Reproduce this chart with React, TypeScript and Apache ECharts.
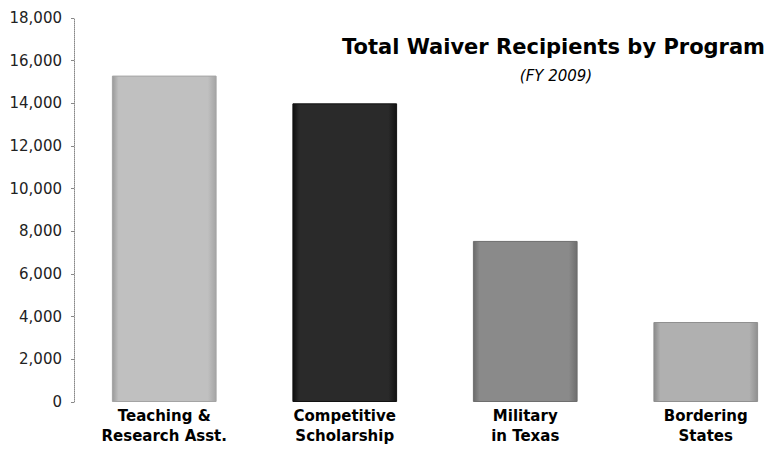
import React, { useEffect, useRef } from "react";
import * as echarts from "echarts";

const categories = ["Teaching &\nResearch Asst.", "Competitive\nScholarship", "Military\nin Texas", "Bordering\nStates"];
const recipients = [15300, 14000, 7550, 3750];
const barColors = [
  ["#9a9a9a", "#c0c0c0", "#a4a4a4"],
  ["#0e0e0e", "#2a2a2a", "#121212"],
  ["#6a6a6a", "#8a8a8a", "#6e6e6e"],
  ["#8a8a8a", "#b0b0b0", "#909090"],
];
const yTicks = { min: 0, max: 18000, interval: 2000 };
const titleText = "Total Waiver Recipients by Program";
const subtitleText = "(FY 2009)";

export default function App() {
  const ref = useRef<HTMLDivElement>(null);
  useEffect(() => {
    document.body.style.margin = "0";
    document.body.style.overflow = "hidden";
    document.documentElement.style.overflow = "hidden";
    const chart = echarts.init(ref.current!, null, { renderer: "svg" });
    chart.setOption({
      animation: false,
      backgroundColor: "#ffffff",
      grid: { left: 74, right: 0, top: 18, bottom: 51, containLabel: false },
      xAxis: {
        type: "category",
        data: categories,
        axisLine: { show: false },
        axisTick: { show: false },
        axisLabel: {
          fontFamily: "DejaVu Sans",
          fontWeight: "bold",
          fontSize: 15,
          color: "#000",
          lineHeight: 20,
          margin: 4,
          interval: 0,
        },
      },
      yAxis: {
        type: "value",
        min: yTicks.min,
        max: yTicks.max,
        interval: yTicks.interval,
        axisLine: { show: true, lineStyle: { color: "#888", type: "dotted", width: 1 } },
        axisTick: { show: true, length: 3, lineStyle: { color: "#888" } },
        splitLine: { show: false },
        axisLabel: {
          fontFamily: "DejaVu Sans",
          fontSize: 15,
          color: "#222",
          margin: 12,
          formatter: (v: number) => v.toLocaleString("en-US"),
        },
      },
      series: [
        {
          type: "bar",
          barWidth: "58%",
          data: recipients.map((v, i) => ({
            value: v,
            itemStyle: {
              color: new echarts.graphic.LinearGradient(0, 0, 1, 0, [
                { offset: 0, color: barColors[i][0] },
                { offset: 0.06, color: barColors[i][1] },
                { offset: 0.92, color: barColors[i][1] },
                { offset: 1, color: barColors[i][2] },
              ]),
              borderColor: barColors[i][2],
              borderWidth: 1,
            },
          })),
        },
      ],
      graphic: [
        {
          type: "text",
          x: 765,
          y: 47,
          style: {
            text: titleText,
            fontFamily: "DejaVu Sans",
            fontWeight: "bold",
            fontSize: 21,
            fill: "#000",
            align: "right",
            verticalAlign: "middle",
          },
        },
        {
          type: "text",
          x: 556,
          y: 76,
          style: {
            text: subtitleText,
            fontFamily: "DejaVu Sans",
            fontStyle: "italic",
            fontSize: 15,
            fill: "#000",
            align: "center",
            verticalAlign: "middle",
          },
        },
      ],
    });
    return () => chart.dispose();
  }, []);
  return <div ref={ref} style={{ width: 796, height: 453 }} />;
}
